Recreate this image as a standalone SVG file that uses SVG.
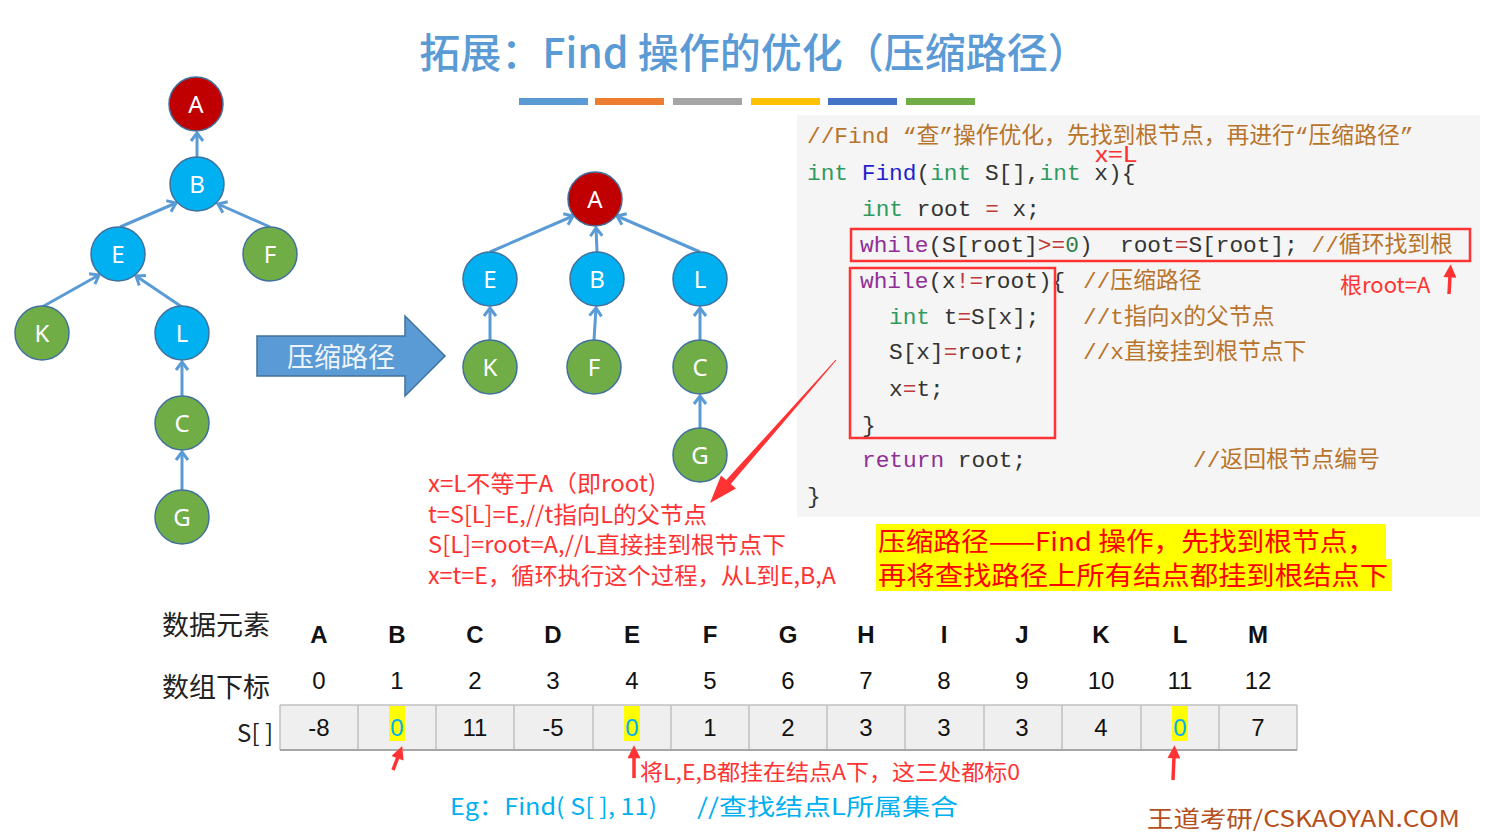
<svg xmlns="http://www.w3.org/2000/svg" width="1512" height="838" viewBox="0 0 1512 838">
<defs>
<style>
.nd{stroke:#41719c;stroke-width:1.5}
.red{fill:#c00000}.blue{fill:#00b0f0}.green{fill:#70ad47}
.lb{font-family:"Noto Sans","Liberation Sans",sans-serif;font-size:24px;fill:#fff;text-anchor:middle}
.edge{stroke:#5b9bd5;stroke-width:3;fill:none;marker-end:url(#vh)}
.code{font-family:"Liberation Mono","Noto Sans CJK SC",monospace;font-size:22.8px;fill:#333;white-space:pre}
.cm{fill:#b8742c;font-family:"Liberation Mono","Noto Sans CJK SC",monospace}
.kw{fill:#2e9a5e}.fn{fill:#1f1fcf}.pk{fill:#8f2f95}.op{fill:#c0393b}
.rt{font-family:"Noto Sans CJK SC","Liberation Sans",sans-serif;fill:#ff3333}
.tb{font-family:"Liberation Sans","Noto Sans",sans-serif;font-size:24px;fill:#111;text-anchor:middle}
.cjk{font-family:"Noto Sans CJK SC",sans-serif}
.rbox{fill:none;stroke:#ff3333;stroke-width:2.5}
.rarr{stroke:#ff3333;stroke-width:3.5;fill:none;marker-end:url(#rh)}
</style>
<marker id="vh" viewBox="-10 -8 12 16" refX="0" refY="0" markerWidth="12" markerHeight="16" markerUnits="userSpaceOnUse" orient="auto">
<path d="M-8,-6 L0,0 L-8,6" fill="none" stroke="#5b9bd5" stroke-width="3"/>
</marker>
<marker id="rh" viewBox="0 0 10 10" refX="1" refY="5" markerWidth="15" markerHeight="13" markerUnits="userSpaceOnUse" orient="auto">
<path d="M0,0 L10,5 L0,10 z" fill="#ff3333"/>
</marker>
</defs>
<rect width="1512" height="838" fill="#fff"/>

<!-- title -->
<text x="754" y="68" text-anchor="middle" font-family="Noto Sans CJK SC,sans-serif" font-size="41" font-weight="500" fill="#5b9bd5">拓展：Find 操作的优化（压缩路径）</text>
<g id="bars">
<rect x="519" y="98" width="69" height="7" fill="#5b9bd5"/>
<rect x="595" y="98" width="69" height="7" fill="#ed7d31"/>
<rect x="673" y="98" width="69" height="7" fill="#a5a5a5"/>
<rect x="751" y="98" width="69" height="7" fill="#ffc000"/>
<rect x="828" y="98" width="69" height="7" fill="#4472c4"/>
<rect x="906" y="98" width="69" height="7" fill="#70ad47"/>
</g>

<!-- code panel -->
<rect x="797" y="115" width="683" height="402" fill="#f5f5f5"/>

<g id="connectors">
<line class="edge" x1="197" y1="157" x2="197" y2="133"/>
<line class="edge" x1="120" y1="227" x2="176" y2="203"/>
<line class="edge" x1="270" y1="227" x2="218" y2="204"/>
<line class="edge" x1="42" y1="307" x2="99" y2="275"/>
<line class="edge" x1="182" y1="307" x2="136" y2="276"/>
<line class="edge" x1="182" y1="396" x2="182" y2="362"/>
<line class="edge" x1="182" y1="490" x2="182" y2="452"/>
<line class="edge" x1="490" y1="252" x2="573" y2="216"/>
<line class="edge" x1="597" y1="252" x2="596" y2="228"/>
<line class="edge" x1="700" y1="252" x2="617" y2="216"/>
<line class="edge" x1="490" y1="340" x2="490" y2="308"/>
<line class="edge" x1="594" y1="340" x2="596" y2="308"/>
<line class="edge" x1="700" y1="340" x2="700" y2="308"/>
<line class="edge" x1="700" y1="428" x2="700" y2="396"/>
</g>

<!-- left tree -->
<g id="L-A"><circle class="nd red" cx="196" cy="104" r="27"/><text class="lb" x="196" y="113">A</text></g>
<g id="L-B"><circle class="nd blue" cx="197" cy="184" r="27"/><text class="lb" x="197" y="193">B</text></g>
<g id="L-E"><circle class="nd blue" cx="118" cy="254" r="27"/><text class="lb" x="118" y="263">E</text></g>
<g id="L-F"><circle class="nd green" cx="270" cy="254" r="27"/><text class="lb" x="270" y="263">F</text></g>
<g id="L-K"><circle class="nd green" cx="42" cy="333" r="27"/><text class="lb" x="42" y="342">K</text></g>
<g id="L-L"><circle class="nd blue" cx="182" cy="333" r="27"/><text class="lb" x="182" y="342">L</text></g>
<g id="L-C"><circle class="nd green" cx="182" cy="423" r="27"/><text class="lb" x="182" y="432">C</text></g>
<g id="L-G"><circle class="nd green" cx="182" cy="517" r="27"/><text class="lb" x="182" y="526">G</text></g>

<!-- block arrow -->
<g id="arrow-compress">
<path d="M257,336 L405,336 L405,316 L445,356 L405,396 L405,376 L257,376 Z" fill="#5b9bd5" stroke="#41719c" stroke-width="1.5"/>
<text x="341" y="367" text-anchor="middle" font-family="Noto Sans CJK SC,sans-serif" font-size="27" fill="#eef4fb">压缩路径</text>
</g>

<!-- right tree -->
<g id="R-A"><circle class="nd red" cx="595" cy="199" r="27"/><text class="lb" x="595" y="208">A</text></g>
<g id="R-E"><circle class="nd blue" cx="490" cy="279" r="27"/><text class="lb" x="490" y="288">E</text></g>
<g id="R-B"><circle class="nd blue" cx="597" cy="279" r="27"/><text class="lb" x="597" y="288">B</text></g>
<g id="R-L"><circle class="nd blue" cx="700" cy="279" r="27"/><text class="lb" x="700" y="288">L</text></g>
<g id="R-K"><circle class="nd green" cx="490" cy="367" r="27"/><text class="lb" x="490" y="376">K</text></g>
<g id="R-F"><circle class="nd green" cx="594" cy="367" r="27"/><text class="lb" x="594" y="376">F</text></g>
<g id="R-C"><circle class="nd green" cx="700" cy="367" r="27"/><text class="lb" x="700" y="376">C</text></g>
<g id="R-G"><circle class="nd green" cx="700" cy="455" r="27"/><text class="lb" x="700" y="464">G</text></g>

<!-- code -->
<g id="code">
<text class="code" x="807" y="143"><tspan class="cm">//Find “查”操作优化，先找到根节点，再进行“压缩路径”</tspan></text>
<text class="code" x="807" y="180"><tspan class="kw">int</tspan> <tspan class="fn">Find</tspan>(<tspan class="kw">int</tspan> S[],<tspan class="kw">int</tspan> x){</text>
<text class="rt" x="1095" y="162" font-size="21" textLength="42" lengthAdjust="spacingAndGlyphs">x=L</text>
<text class="code" x="862" y="216"><tspan class="kw">int</tspan> root <tspan class="op">=</tspan> x;</text>
<text class="code" x="860" y="252"><tspan class="pk">while</tspan>(S[root]<tspan class="op">&gt;=</tspan><tspan fill="#2a7d4f">0</tspan>)  root<tspan class="op">=</tspan>S[root]; <tspan class="cm">//循环找到根</tspan></text>
<text class="code" x="860" y="288"><tspan class="pk">while</tspan>(x<tspan class="op">!=</tspan>root){</text>
<text class="code cm" x="1083" y="288">//压缩路径</text>
<text class="code" x="889" y="324"><tspan class="kw">int</tspan> t<tspan class="op">=</tspan>S[x];</text>
<text class="code cm" x="1083" y="324">//t指向x的父节点</text>
<text class="code" x="889" y="359">S[x]<tspan class="op">=</tspan>root;</text>
<text class="code cm" x="1083" y="359">//x直接挂到根节点下</text>
<text class="code" x="889" y="396">x<tspan class="op">=</tspan>t;</text>
<text class="code" x="862" y="432">}</text>
<text class="code" x="862" y="467"><tspan class="pk">return</tspan> root;</text>
<text class="code cm" x="1193" y="467">//返回根节点编号</text>
<text class="code" x="807" y="503">}</text>
<rect class="rbox" x="851" y="229" width="619" height="32"/>
<rect class="rbox" x="850" y="268" width="205" height="170"/>
<line class="rarr" x1="1449" y1="294" x2="1450" y2="276"/>
<text class="rt" x="1340" y="293" font-size="22">根root=A</text>
</g>

<!-- diagonal red arrow -->
<polygon points="836.4,360.3 730.8,484 736,488.6 710,503 721,475.4 726.2,480 835.6,359.7" fill="#ff3333"/>

<!-- red explanation -->
<g id="explain" class="rt" font-size="23">
<text x="428" y="492" textLength="228" lengthAdjust="spacingAndGlyphs">x=L不等于A（即root)</text>
<text x="428" y="523" textLength="279" lengthAdjust="spacingAndGlyphs">t=S[L]=E,//t指向L的父节点</text>
<text x="428" y="553" textLength="358" lengthAdjust="spacingAndGlyphs">S[L]=root=A,//L直接挂到根节点下</text>
<text x="428" y="584" textLength="408" lengthAdjust="spacingAndGlyphs">x=t=E，循环执行这个过程，从L到E,B,A</text>
</g>

<!-- yellow note -->
<g id="note">
<rect x="876" y="524" width="510" height="35" fill="#ffff00"/>
<rect x="876" y="559" width="516" height="32" fill="#ffff00"/>
<text x="878" y="551" font-family="Noto Sans CJK SC,sans-serif" font-size="26" fill="#ff0000" textLength="497" lengthAdjust="spacingAndGlyphs">压缩路径——Find 操作，先找到根节点，</text>
<text x="878" y="585" font-family="Noto Sans CJK SC,sans-serif" font-size="26" fill="#ff0000" textLength="510" lengthAdjust="spacingAndGlyphs">再将查找路径上所有结点都挂到根结点下</text>
</g>

<!-- table -->
<g id="table">
<text class="cjk" x="162" y="635" font-size="27" fill="#222">数据元素</text>
<text class="cjk" x="162" y="697" font-size="27" fill="#222">数组下标</text>
<text class="cjk" x="273" y="742" font-size="24" fill="#222" text-anchor="end">S[ ]</text>
<rect x="280" y="705" width="1017" height="45" fill="#efefef"/>
<g stroke="#c0c0c0" stroke-width="1.5">
<line x1="280" y1="705" x2="1297" y2="705"/>
<line x1="280" y1="705" x2="280" y2="750"/>
<line x1="358" y1="705" x2="358" y2="750"/>
<line x1="436" y1="705" x2="436" y2="750"/>
<line x1="514" y1="705" x2="514" y2="750"/>
<line x1="593" y1="705" x2="593" y2="750"/>
<line x1="671" y1="705" x2="671" y2="750"/>
<line x1="749" y1="705" x2="749" y2="750"/>
<line x1="827" y1="705" x2="827" y2="750"/>
<line x1="905" y1="705" x2="905" y2="750"/>
<line x1="984" y1="705" x2="984" y2="750"/>
<line x1="1062" y1="705" x2="1062" y2="750"/>
<line x1="1141" y1="705" x2="1141" y2="750"/>
<line x1="1219" y1="705" x2="1219" y2="750"/>
<line x1="1297" y1="705" x2="1297" y2="750"/>
</g>
<line x1="280" y1="750" x2="1297" y2="750" stroke="#a6a6a6" stroke-width="2"/>
<g font-weight="bold">
<text class="tb" x="319" y="643">A</text><text class="tb" x="397" y="643">B</text><text class="tb" x="475" y="643">C</text><text class="tb" x="553" y="643">D</text><text class="tb" x="632" y="643">E</text><text class="tb" x="710" y="643">F</text><text class="tb" x="788" y="643">G</text><text class="tb" x="866" y="643">H</text><text class="tb" x="944" y="643">I</text><text class="tb" x="1022" y="643">J</text><text class="tb" x="1101" y="643">K</text><text class="tb" x="1180" y="643">L</text><text class="tb" x="1258" y="643">M</text>
</g>
<g>
<text class="tb" x="319" y="689">0</text><text class="tb" x="397" y="689">1</text><text class="tb" x="475" y="689">2</text><text class="tb" x="553" y="689">3</text><text class="tb" x="632" y="689">4</text><text class="tb" x="710" y="689">5</text><text class="tb" x="788" y="689">6</text><text class="tb" x="866" y="689">7</text><text class="tb" x="944" y="689">8</text><text class="tb" x="1022" y="689">9</text><text class="tb" x="1101" y="689">10</text><text class="tb" x="1180" y="689">11</text><text class="tb" x="1258" y="689">12</text>
</g>
<rect x="389" y="706" width="16" height="35" fill="#ffff00"/>
<rect x="624" y="706" width="16" height="35" fill="#ffff00"/>
<rect x="1172" y="706" width="16" height="35" fill="#ffff00"/>
<g>
<text class="tb" x="319" y="736">-8</text><text class="tb" x="397" y="736" style="fill:#00b0f0">0</text><text class="tb" x="475" y="736">11</text><text class="tb" x="553" y="736">-5</text><text class="tb" x="632" y="736" style="fill:#00b0f0">0</text><text class="tb" x="710" y="736">1</text><text class="tb" x="788" y="736">2</text><text class="tb" x="866" y="736">3</text><text class="tb" x="944" y="736">3</text><text class="tb" x="1022" y="736">3</text><text class="tb" x="1101" y="736">4</text><text class="tb" x="1180" y="736" style="fill:#00b0f0">0</text><text class="tb" x="1258" y="736">7</text>
</g>
</g>

<g id="table-arrows">
<line class="rarr" x1="393" y1="770" x2="398" y2="757"/>
<line class="rarr" x1="634" y1="778" x2="634" y2="757"/>
<line class="rarr" x1="1173" y1="780" x2="1174" y2="757"/>
<text class="rt" x="640" y="780" font-size="22" textLength="380" lengthAdjust="spacingAndGlyphs">将L,E,B都挂在结点A下，这三处都标0</text>
</g>

<g id="footer">
<text x="450" y="815" font-family="Noto Sans CJK SC,sans-serif" font-size="23" fill="#00b0f0" textLength="207" lengthAdjust="spacingAndGlyphs">Eg：Find( S[ ], 11)</text>
<text x="697" y="815" font-family="Noto Sans CJK SC,sans-serif" font-size="23" fill="#00b0f0" textLength="261" lengthAdjust="spacingAndGlyphs">//查找结点L所属集合</text>
<text x="1147" y="827" font-family="Noto Sans CJK SC,sans-serif" font-size="23" fill="#b5501c" textLength="313" lengthAdjust="spacingAndGlyphs">王道考研/CSKAOYAN.COM</text>
</g>
</svg>
